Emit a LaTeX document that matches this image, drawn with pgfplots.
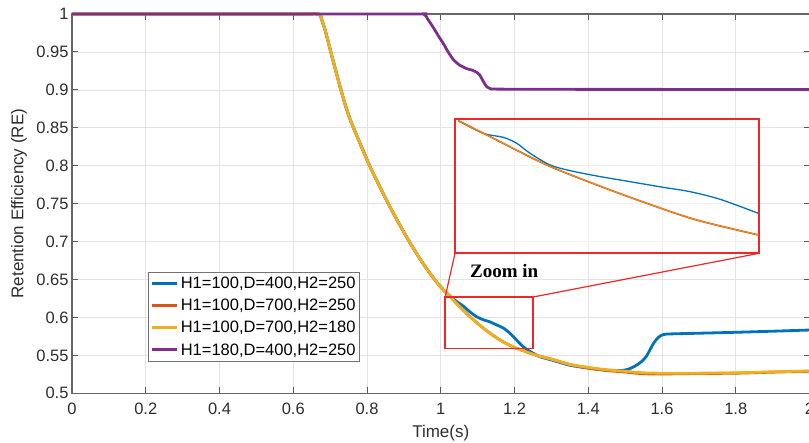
\documentclass[border=0pt]{standalone}
\usepackage{pgfplots}
\pgfplotsset{compat=1.18}
\usepackage{pgfplotstable}
\usepackage{fontspec}
\setmainfont{Liberation Sans}
\newfontfamily\zoomfont{Liberation Serif}

\definecolor{mblue}{rgb}{0,0.447,0.741}
\definecolor{mred}{rgb}{0.85,0.325,0.098}
\definecolor{myellow}{rgb}{0.929,0.694,0.125}
\definecolor{mpurple}{rgb}{0.494,0.184,0.556}
\definecolor{boxred}{RGB}{238,40,40}

\pgfplotstableread{
x y
0 1
0.6 1
0.668 1
0.676 0.994
0.685 0.981
0.695 0.963
0.705 0.944
0.716 0.924
0.727 0.904
0.740 0.882
0.752 0.864
0.765 0.848
0.785 0.825
0.808 0.799
0.835 0.772
0.862 0.746
0.890 0.721
0.917 0.698
0.944 0.677
0.971 0.658
1.000 0.640
1.016 0.632
1.040 0.620
1.060 0.610
1.079 0.601
1.105 0.590
1.134 0.579
1.165 0.569
1.197 0.561
1.230 0.555
1.260 0.550
1.300 0.545
1.350 0.538
1.403 0.534
1.450 0.531
1.500 0.529
1.549 0.527
1.602 0.5265
1.685 0.5265
1.800 0.527
1.911 0.5285
2.000 0.5294
}\yellowdata

\pgfplotstableread{
x y
0 1
0.6 1
0.668 1
0.676 0.994
0.685 0.981
0.695 0.963
0.705 0.944
0.716 0.924
0.727 0.904
0.740 0.882
0.752 0.864
0.765 0.848
0.785 0.825
0.808 0.799
0.835 0.772
0.862 0.746
0.890 0.721
0.917 0.698
0.944 0.677
0.971 0.658
1.000 0.640
1.016 0.632
1.040 0.620
1.060 0.610
1.079 0.601
1.105 0.590
1.134 0.579
1.165 0.569
1.197 0.561
1.230 0.555
1.260 0.550
1.300 0.545
1.350 0.538
1.403 0.533
1.450 0.530
1.500 0.528
1.549 0.5258
1.602 0.5255
1.685 0.526
1.800 0.5265
1.911 0.528
2.000 0.529
}\reddata

\pgfplotstableread{
x y
0 1
0.6 1
0.668 1
0.676 0.994
0.685 0.981
0.695 0.963
0.705 0.944
0.716 0.924
0.727 0.904
0.740 0.882
0.752 0.864
0.765 0.848
0.785 0.825
0.808 0.799
0.835 0.772
0.862 0.746
0.890 0.721
0.917 0.698
0.944 0.677
0.971 0.658
1.000 0.640
1.016 0.632
1.030 0.626
1.043 0.621
1.061 0.615
1.080 0.607
1.097 0.601
1.115 0.597
1.134 0.594
1.152 0.590
1.170 0.586
1.188 0.579
1.206 0.570
1.220 0.563
1.233 0.558
1.250 0.553
1.270 0.548
1.300 0.544
1.350 0.537
1.403 0.533
1.450 0.5305
1.490 0.530
1.510 0.532
1.531 0.537
1.545 0.542
1.558 0.549
1.567 0.557
1.576 0.565
1.585 0.571
1.595 0.5755
1.612 0.578
1.685 0.579
1.800 0.5804
1.911 0.582
2.000 0.5834
}\bluedata

\pgfplotstableread{
x y
0 1
0.9 1
0.953 1
0.965 0.993
0.980 0.982
0.995 0.970
1.007 0.961
1.020 0.950
1.034 0.940
1.050 0.933
1.070 0.928
1.085 0.926
1.098 0.923
1.105 0.920
1.111 0.915
1.118 0.909
1.125 0.904
1.135 0.9015
1.150 0.901
1.300 0.9007
1.600 0.9006
2.000 0.9005
}\purpledata

\pgfplotstableread{
x y
1.0126 0.6339
1.0429 0.6209
1.0823 0.6042
1.1218 0.5908
1.1612 0.5785
1.2006 0.5673
1.2492 0.5573
}\insetorange

\pgfplotstableread{
x y
1.0126 0.6339
1.0323 0.6254
1.0481 0.6227
1.0587 0.6187
1.0692 0.6120
1.0849 0.6042
1.1007 0.6004
1.1218 0.5968
1.1480 0.5930
1.1743 0.5892
1.1953 0.5863
1.2190 0.5812
1.2492 0.5718
}\insetblue

\begin{document}
\begin{tikzpicture}
\begin{axis}[
  at={(0pt,0pt)}, anchor=south west,
  scale only axis, width=737.5pt, height=379.3pt,
  xmin=0, xmax=2, ymin=0.5, ymax=1,
  xtick={0,0.2,0.4,0.6,0.8,1,1.2,1.4,1.6,1.8,2},
  ytick={0.5,0.55,0.6,0.65,0.7,0.75,0.8,0.85,0.9,0.95,1},
  grid=major, major grid style={black!11, line width=0.6pt},
  tick align=inside, major tick length=6pt,
  every tick/.style={black!65, line width=1pt},
  axis line style={black!60, line width=1.3pt},
  tick label style={font=\fontsize{16.5}{19}\selectfont, text=black!82},
  /pgf/number format/assume math mode=true,
  yticklabel style={/pgf/number format/fixed, /pgf/number format/precision=2},
  xticklabel style={/pgf/number format/fixed, yshift=-6pt},
  xlabel={Time(s)}, ylabel={Retention Efficiency (RE)},
  label style={font=\fontsize{17}{20}\selectfont, text=black!82},
  xlabel style={at={(axis description cs:0.5,-0.1055)}, anchor=center},
  ylabel style={at={(axis description cs:-0.0719,0.5)}, anchor=center},
  clip=false,
  legend cell align=left,
  legend style={at={(0.1035,0.320)}, anchor=north west, draw=black!55, line width=1pt,
    fill=white, font=\fontsize{16.5}{18}\selectfont, inner xsep=2pt, inner ysep=3pt,
    row sep=5pt},
  legend image code/.code={\draw[#1, line width=3pt] (0pt,0pt) -- (25pt,0pt);},
]
\addplot[mblue, line width=2.8pt, smooth, tension=0.4] table {\bluedata};
\addlegendentry{H1=100,D=400,H2=250}
\addplot[mred, line width=2.8pt, smooth, tension=0.4] table {\reddata};
\addlegendentry{H1=100,D=700,H2=250}
\addplot[myellow, line width=2.8pt, smooth, tension=0.4] table {\yellowdata};
\addlegendentry{H1=100,D=700,H2=180}
\addplot[mpurple, line width=2.8pt, smooth, tension=0.4] table {\purpledata};
\addlegendentry{H1=180,D=400,H2=250}

\draw[boxred, line width=1.8pt] (axis cs:1.012,0.627) rectangle (axis cs:1.251,0.559);
\draw[boxred, line width=1.2pt] (axis cs:1.012,0.627) -- (axis cs:1.0386,0.6846);
\draw[boxred, line width=1.2pt] (axis cs:1.251,0.627) -- (axis cs:1.8639,0.6846);
\node[anchor=west, inner sep=0pt, font=\zoomfont\bfseries\fontsize{19}{22}\selectfont] at (axis cs:1.079,0.661) {Zoom in};
\coordinate (insetNW) at (axis cs:1.0386,0.8616);
\end{axis}

\begin{axis}[
  at={(insetNW)}, anchor=north west,
  scale only axis, width=304.3pt, height=134.3pt,
  xmin=1.01, xmax=1.25, ymin=0.545, ymax=0.635,
  xtick=\empty, ytick=\empty,
  axis line style={boxred, line width=1.8pt},
  axis background/.style={fill=white, fill opacity=0.5},
]
\addplot[mblue, line width=1.3pt, smooth] table {\insetblue};
\addplot[mred, line width=1.7pt, smooth] table {\insetorange};
\addplot[myellow!70!mred, line width=0.9pt, smooth] table {\insetorange};
\end{axis}

\pgfresetboundingbox
\path[use as bounding box] (-72pt,-49.7pt) rectangle (737pt,393.3pt);
\end{tikzpicture}
\end{document}
